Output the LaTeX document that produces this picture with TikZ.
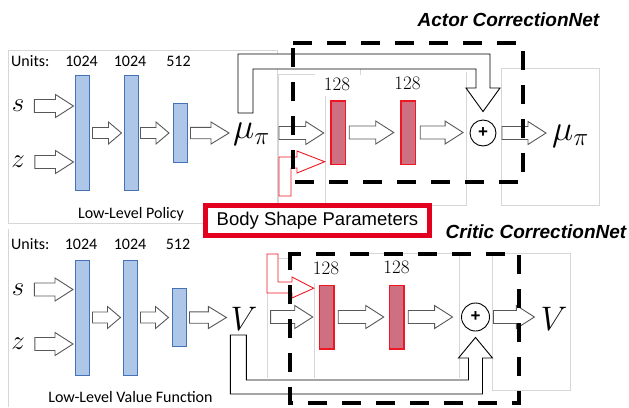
\RequirePackage{fix-cm}
\documentclass[tikz,border=0pt]{standalone}
\usepackage{fontspec}
\setmainfont{Carlito}
\newfontfamily\arialfont{Liberation Sans}
\usetikzlibrary{calc}

\definecolor{barblue}{RGB}{174,198,232}
\definecolor{barblueedge}{RGB}{68,114,180}
\definecolor{barred}{RGB}{207,112,130}
\definecolor{edgered}{RGB}{238,24,36}
\definecolor{boxred}{RGB}{226,0,30}
\definecolor{panelgray}{RGB}{214,214,214}
\definecolor{arrowgray}{RGB}{88,88,88}

\tikzset{
  panel/.style={draw=panelgray, line width=0.7pt},
  bluebar/.style={draw=barblueedge, fill=barblue, line width=1pt, minimum width=14pt, inner sep=0pt, outer sep=0pt},
  redbar/.style={draw=edgered, fill=barred, line width=1.5pt, minimum width=14.5pt, minimum height=63.5pt, inner sep=0pt, outer sep=0pt},
  blockarr/.style={draw=arrowgray, fill=white, line width=0.9pt, line join=miter},
  skiparr/.style={draw=black, fill=white, line width=0.9pt, line join=miter},
  paramarr/.style={draw=edgered, fill=white, line width=0.9pt, line join=miter},
  dashbox/.style={draw=black, line width=4.2pt, dash pattern=on 19pt off 15pt},
  txt/.style={font=\fontsize{16}{16}\selectfont, inner sep=0pt},
  unitnum/.style={font=\fontsize{19}{19}\selectfont, inner sep=0pt},
  sym/.style={inner sep=0pt, font=\fontsize{27}{27}\selectfont},
  musym/.style={inner sep=0pt, font=\fontsize{36}{36}\selectfont},
  vsym/.style={inner sep=0pt, font=\fontsize{34}{34}\selectfont},
  summ/.style={circle, draw=black, line width=0.9pt, inner sep=0pt, fill=white,
    font=\fontsize{17}{17}\arialfont\bfseries},
  parambox/.style={draw=boxred, line width=5pt, fill=white, minimum width=224pt,
    minimum height=30pt, inner sep=0pt, font=\fontsize{18.5}{18.5}\arialfont},
  title/.style={inner sep=0pt, font=\fontsize{19}{19}\arialfont\bfseries\itshape},
}

% hollow block arrow: head length, shaft half width, head half width, from, to
\newcommand\blockarrow[5]{%
  \draw[blockarr] let \p1=#4, \p2=#5 in
    (\x1,\y1+#2) -- (\x2-#1,\y1+#2) -- (\x2-#1,\y1+#3) -- (\x2,\y1)
    -- (\x2-#1,\y1-#3) -- (\x2-#1,\y1-#2) -- (\x1,\y1-#2) -- cycle;}
\newcommand\bigarrow[2]{\blockarrow{18pt}{6.5pt}{11.5pt}{#1}{#2}}
\newcommand\medarrow[2]{\blockarrow{18pt}{5.7pt}{11pt}{#1}{#2}}
\newcommand\smallarrow[2]{\blockarrow{13pt}{5.5pt}{11pt}{#1}{#2}}

\begin{document}
\begin{tikzpicture}[x=1pt,y=-1pt]
\useasboundingbox (0,0) rectangle (629,407);

% screenshot panel frames
\draw[panel] (8,50) rectangle (277,223);
\draw[panel] (315,74) -- (278,74) -- (278,205) -- (466,205) -- (466,72);
\draw[panel] (325,96) -- (325,205);
\draw[panel] (360,69) -- (360,75);
\draw[panel] (501,68) rectangle (599,205);
\draw[panel] (8,229) -- (8,407);
\draw[panel] (290,258) -- (267,258) -- (267,378);
\draw[panel] (314,283) -- (314,378);
\draw[panel] (352,253) -- (459,253) -- (459,378);
\draw[panel] (492,253) rectangle (570,390);

% ---------------- low-level policy ----------------
\node[txt, anchor=west] (unitsA) at (11,61.5) {Units:};
\node[txt] (uA1) at (81.5,61.5) {1024};
\node[txt] (uA2) at (130,61.5) {1024};
\node[txt] (uA3) at (178.5,61.5) {512};

\node[sym] (s1) at (18,106) {$s$};
\node[sym] (z1) at (18,162) {$z$};
\node[bluebar, minimum height=115pt] (b1) at (82.5,133) {};
\node[bluebar, minimum height=115pt] (b2) at (131.5,133) {};
\node[bluebar, minimum height=59pt] (b3) at (180,133) {};
\node[musym] (mu1) at (251.5,134.5) {$\mu_\pi$};
\node[txt] (polname) at (131,214) {Low-Level Policy};

\bigarrow{([xshift=10pt]s1.east)}{([xshift=-2pt]b1.west)}
\bigarrow{([xshift=10pt]z1.east)}{([xshift=-2pt]b1.west)}
\smallarrow{([xshift=3pt]b1.east)}{([xshift=-3pt]b2.west)}
\smallarrow{([xshift=2pt]b2.east)}{([xshift=-4pt]b3.west)}
\medarrow{([xshift=3.5pt]b3.east)}{([xshift=-4pt]mu1.west)}

% ---------------- actor correction net ----------------
\node[unitnum] (uR1) at (337,84) {$128$};
\node[unitnum] (uR2) at (407.5,83) {$128$};
\node[redbar] (r1) at (338,132.5) {};
\node[redbar] (r2) at (408,132.5) {};
\node[summ, minimum size=26pt] (plus1) at (483,133) {+};
\node[musym] (mu2) at (570.5,136) {$\mu_\pi$};

\bigarrow{([xshift=9pt,yshift=1.5pt]mu1.east)}{([xshift=-7pt]r1.west)}
\bigarrow{([xshift=4pt]r1.east)}{([xshift=-7pt]r2.west)}
\bigarrow{([xshift=5pt]r2.east)}{([xshift=-6.5pt]plus1.west)}
\bigarrow{([xshift=5.5pt]plus1.east)}{([xshift=-6pt]mu2.west)}

% skip connection from the policy output to the sum
\draw[skiparr] let \p1=(mu1.north west), \p2=(plus1.north) in
  (\x1+5pt,-113pt) |- (\x2+7pt,-54pt) -- (\x2+7pt,-88pt) -- (\x2+17pt,-88pt)
  -- (\x2,\y2+8pt) -- (\x2-17pt,-88pt) -- (\x2-7pt,-88pt) |- (\x1+20pt,-69pt)
  -- (\x1+20pt,-113pt) -- cycle;

% body shape parameters feeding the first layer
\draw[paramarr] let \p1=(r1.south west) in
  (279,196) -- (279,157) -- (297,157) -- (297,151) -- (\x1-6pt,\y1+2.5pt)
  -- (297,173) -- (297,168) -- (291,168) -- (291,196) -- cycle;

% ---------------- low-level value function ----------------
\node[txt, anchor=west] (unitsB) at (11,244.5) {Units:};
\node[txt] (uB1) at (81,244.5) {1024};
\node[txt] (uB2) at (130,244.5) {1024};
\node[txt] (uB3) at (178,244.5) {512};

\node[sym] (s2) at (18,289.5) {$s$};
\node[sym] (z2) at (18,344) {$z$};
\node[bluebar, minimum height=115pt] (c1) at (82,317.5) {};
\node[bluebar, minimum height=115pt] (c2) at (130.5,317.5) {};
\node[bluebar, minimum height=58pt] (c3) at (179.5,317.5) {};
\node[vsym] (V1) at (244,318.5) {$V$};
\node[txt] (valname) at (130.5,397) {Low-Level Value Function};

\bigarrow{([xshift=10pt]s2.east)}{([xshift=-2pt]c1.west)}
\bigarrow{([xshift=10pt]z2.east)}{([xshift=-2pt]c1.west)}
\smallarrow{([xshift=3.5pt]c1.east)}{([xshift=-3pt]c2.west)}
\smallarrow{([xshift=3pt]c2.east)}{([xshift=-4pt]c3.west)}
\medarrow{([xshift=3pt]c3.east)}{([xshift=-4pt]V1.west)}

% ---------------- critic correction net ----------------
\node[unitnum] (uS1) at (326,268.5) {$128$};
\node[unitnum] (uS2) at (396.5,267.5) {$128$};
\node[redbar] (r3) at (326.5,317) {};
\node[redbar] (r4) at (396.5,317) {};
\node[summ, minimum size=28pt] (plus2) at (475.5,317) {+};
\node[vsym] (V2) at (554,318.5) {$V$};

\bigarrow{([xshift=13pt,yshift=1.5pt]V1.east)}{([xshift=-6.5pt]r3.west)}
\bigarrow{([xshift=4.5pt]r3.east)}{([xshift=-5.5pt]r4.west)}
\bigarrow{([xshift=4.5pt]r4.east)}{([xshift=-8.5pt]plus2.west)}
\bigarrow{([xshift=3.5pt]plus2.east)}{([xshift=-6pt]V2.west)}

% skip connection from the value output to the sum
\draw[skiparr] let \p1=(V1.south west), \p2=(plus2.south) in
  (\x1,-335pt) |- (\x2+7pt,-394pt) -- (\x2+7pt,-358pt) -- (\x2+17pt,-358pt)
  -- (\x2,\y2-6pt) -- (\x2-17pt,-358pt) -- (\x2-7pt,-358pt) |- (\x1+16pt,-380pt)
  -- (\x1+16pt,-335pt) -- cycle;

% body shape parameters feeding the first critic layer
\draw[paramarr] let \p1=(r3.north west) in
  (267,254) -- (278,254) -- (278,282) -- (292,282) -- (292,277)
  -- (\x1-5.5pt,\y1-3pt) -- (292,298) -- (292,293) -- (267,293) -- cycle;

% ---------------- shared input box ----------------
\node[parambox] (param) at (317.5,220.5) {Body Shape Parameters};

% ---------------- correction net outlines and titles ----------------
\draw[dashbox] (293,43) -- (523,43) -- (523,182) -- (293,182) -- cycle;
\draw[dashbox] (290,262) -- (290,254) -- (519,254) -- (519,403) -- (290,403) -- cycle;
\node[title] (actortitle) at (508.5,20) {Actor CorrectionNet};
\node[title] (critictitle) at (536,232) {Critic CorrectionNet};
\end{tikzpicture}
\end{document}
